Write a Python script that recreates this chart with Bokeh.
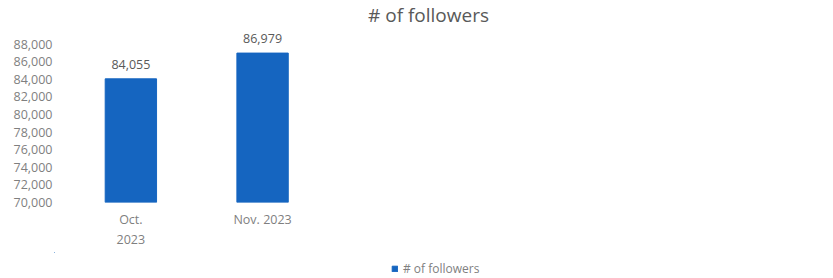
from bokeh.plotting import figure
from bokeh.layouts import column
from bokeh.models import (Range1d, FixedTicker, ColumnDataSource, Legend, LegendItem,
                          NumeralTickFormatter, Title, LabelSet)
from bokeh.core.properties import value
from bokeh.embed import file_html
from bokeh.resources import INLINE

# ---- data ----
categories = ["Oct.\n2023", "Nov. 2023"]
followers = [84055, 86979]
value_labels = ["84,055", "86,979"]
y_ticks = [70000, 72000, 74000, 76000, 78000, 80000, 82000, 84000, 86000, 88000]
series_name = "# of followers"

FONT = "Open Sans"
GREY = "#7f7f7f"
DARK = "#595959"
BLUE = "#1565C0"

xs = list(range(len(categories)))
src = ColumnDataSource(dict(x=xs, top=followers, lbl=value_labels))

p = figure(frame_width=748, frame_height=176, output_backend="svg", toolbar_location=None,
           x_range=Range1d(-0.58, 5.1), y_range=Range1d(70000, 90000),
           min_border_left=54, min_border_right=15, min_border_top=25,
           min_border_bottom=50)
p.outline_line_color = None
p.grid.visible = False

title = Title(text=series_name, align="center", text_font=FONT,
              text_font_size="19px", text_color=DARK, text_font_style="normal",
              standoff=-2)
p.add_layout(title, "above")

r = p.vbar(x="x", top="top", bottom=70000, width=0.39, source=src,
           fill_color=BLUE, line_color=BLUE)

labels = LabelSet(x="x", y="top", text="lbl", source=src, text_align="center",
                  text_baseline="alphabetic", y_offset=10, text_font=value(FONT),
                  text_font_size=value("12.5px"), text_color=DARK)
p.add_layout(labels)

p.yaxis.ticker = FixedTicker(ticks=y_ticks)
p.yaxis.formatter = NumeralTickFormatter(format="0,0")
p.xaxis.ticker = FixedTicker(ticks=xs)
p.xaxis.major_label_overrides = {i: c for i, c in zip(xs, categories)}
for ax in (p.xaxis, p.yaxis):
    ax.axis_line_color = None
    ax.major_tick_line_color = None
    ax.minor_tick_line_color = None
    ax.major_tick_out = 0
    ax.major_tick_in = 0
    ax.major_label_text_font = FONT
    ax.major_label_text_font_size = "12.5px"
    ax.major_label_text_color = GREY
p.yaxis.major_label_standoff = 2
p.xaxis.major_label_standoff = 8

# legend strip below the chart (its bars lie outside its own view)
p2 = figure(width=817, height=27, output_backend="svg", toolbar_location=None,
            x_range=Range1d(20, 21), y_range=Range1d(0, 1),
            x_axis_location=None, y_axis_location=None,
            min_border_left=0, min_border_right=0, min_border_top=0, min_border_bottom=0)
p2.outline_line_color = None
p2.grid.visible = False
r2 = p2.vbar(x="x", top="top", bottom=70000, width=0.39, source=src,
             fill_color=BLUE, line_color=BLUE)
legend = Legend(items=[LegendItem(label=series_name, renderers=[r2])],
                location=(337, 2), orientation="horizontal",
                label_text_font=FONT, label_text_font_size="12px",
                label_text_color=GREY, glyph_width=7, glyph_height=7,
                label_height=15, border_line_color=None, background_fill_alpha=0,
                padding=0, margin=0, label_standoff=5)
p2.add_layout(legend, "center")

open("out.html", "w").write(file_html(column(p, p2, spacing=0), INLINE))
